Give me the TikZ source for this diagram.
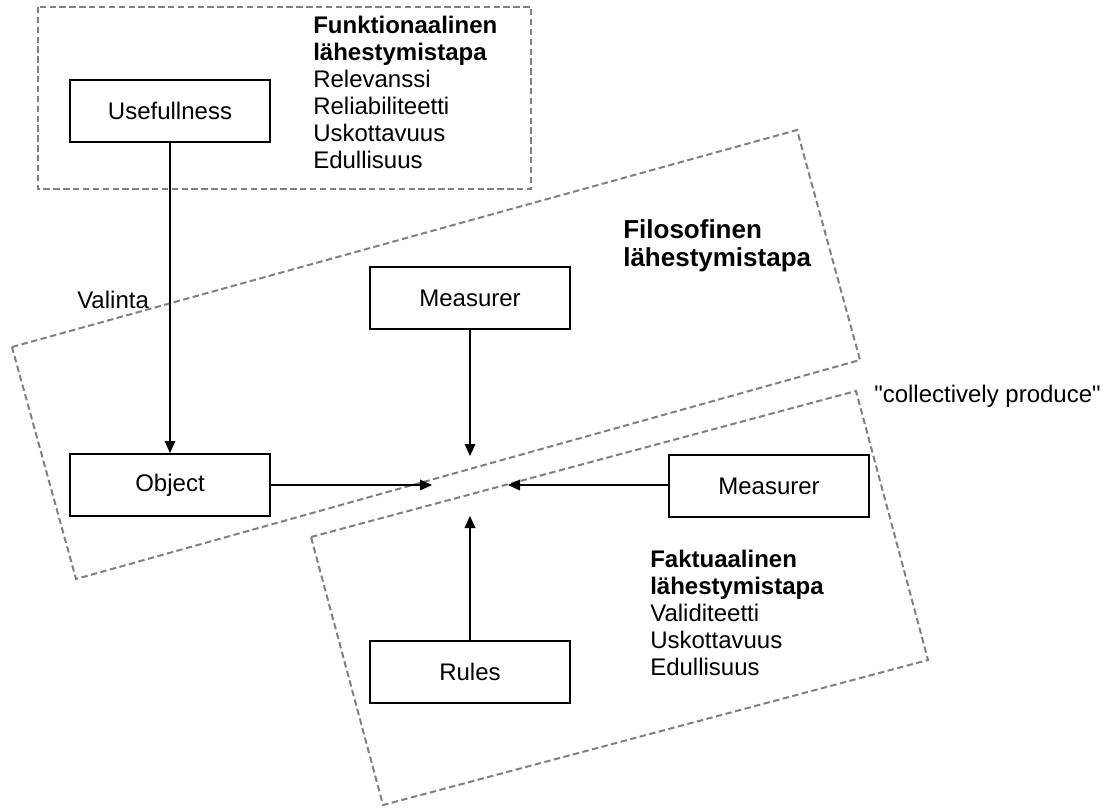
\documentclass[tikz,border=0pt]{standalone}
\usepackage{fontspec}
\setmainfont{Liberation Sans}[Ligatures=TeXOff]
\usetikzlibrary{arrows.meta}
\definecolor{zonegray}{RGB}{128,128,128}
\begin{document}
\begin{tikzpicture}[x=0.75pt,y=-0.75pt,
  txt/.style={font=\fontsize{18}{20}\selectfont},
  box/.style={txt,draw=black,line width=1.5pt,fill=white,
    minimum width=150pt,minimum height=46.5pt,inner sep=0pt},
  zone/.style={draw=zonegray,line width=1.5pt,dash pattern=on 4.8pt off 2.6pt},
  link/.style={line width=1pt,-{Triangle[length=9pt,width=8pt]}},
  lbl/.style={txt,anchor=base west,inner sep=0pt},
  head/.style={lbl,font=\fontsize{18}{20}\selectfont\bfseries},
  bighead/.style={lbl,font=\fontsize{19.5}{22}\selectfont\bfseries}]
\useasboundingbox (0,0) rectangle (1112,807);

% approach zones
\draw[zone] (38,7) rectangle (531,189);
\draw[zone] (12,347) -- (797,130) -- (860,360) -- (76,579) -- cycle;
\draw[zone] (311,537) -- (856,391) -- (928,660) -- (383,805) -- cycle;

% functional approach
\node[head] (fun1) at (313,33) {Funktionaalinen};
\node[head] (fun2) at (313,60) {lähestymistapa};
\node[lbl]  (fun3) at (313,87) {Relevanssi};
\node[lbl]  (fun4) at (313,114) {Reliabiliteetti};
\node[lbl]  (fun5) at (313,141) {Uskottavuus};
\node[lbl]  (fun6) at (313,168) {Edullisuus};

% philosophical approach
\node[bighead] (fil1) at (623,238) {Filosofinen};
\node[bighead] (fil2) at (623,266) {lähestymistapa};

% factual approach
\node[head] (fak1) at (650,567) {Faktuaalinen};
\node[head] (fak2) at (650,594) {lähestymistapa};
\node[lbl]  (fak3) at (650,621) {Validiteetti};
\node[lbl]  (fak4) at (650,648) {Uskottavuus};
\node[lbl]  (fak5) at (650,675) {Edullisuus};

\node[lbl] (valinta) at (77,308) {Valinta};
\node[lbl] (coll) at (874,402) {"collectively produce"};

% boxes
\node[box] (useful) at (170,111) {Usefullness};
\node[box] (object) at (170,485) {Object};
\node[box] (meas1) at (470,298) {Measurer};
\node[box] (meas2) at (769,486) {Measurer};
\node[box] (rules) at (470,672) {Rules};

% meeting point of the four arrows
\coordinate (tipL) at (432,485);
\coordinate (tipR) at (508,485);
\coordinate (tipT) at (470,456);
\coordinate (tipB) at (470,516);

\draw[link] (useful.south) -- (object.north);
\draw[link] (object.east) -- (tipL);
\draw[link] (meas1.south) -- (tipT);
\draw[link] (meas2.west |- tipR) -- (tipR);
\draw[link] (rules.north) -- (tipB);
\end{tikzpicture}
\end{document}
